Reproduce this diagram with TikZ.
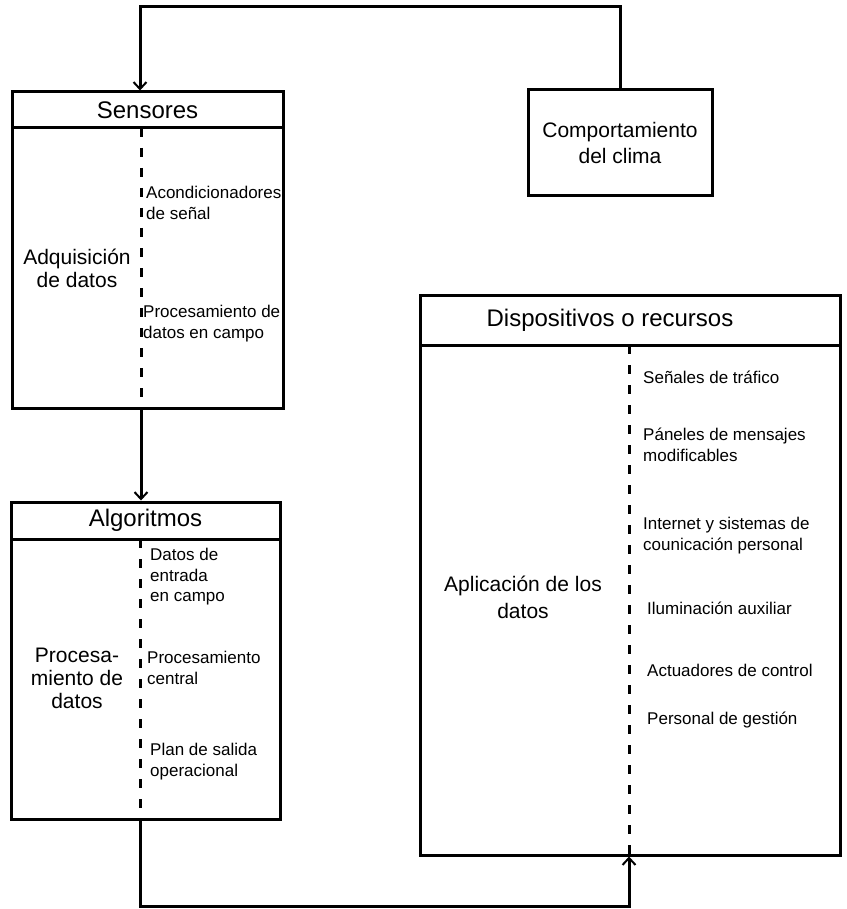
\documentclass[tikz,border=0pt]{standalone}
\usepackage{fontspec}
\setmainfont{Liberation Sans}
\usetikzlibrary{arrows.meta}
\begin{document}
\begin{tikzpicture}[x=1pt,y=-1pt,
  frame/.style={draw=black, line width=3pt, inner sep=0pt},
  divider/.style={line width=3pt, dash pattern=on 9pt off 11pt},
  link/.style={line width=3pt, -{Straight Barb[length=7pt,width=13pt,line width=2pt]}},
  headtxt/.style={font=\fontsize{24}{28}\selectfont},
  midtxt/.style={font=\fontsize{21}{23}\selectfont, align=center, inner sep=0pt},
  itemtxt/.style={font=\fontsize{17}{21}\selectfont, align=left, inner sep=0pt, anchor=west},
]
\useasboundingbox (0,0) rectangle (846,909);

% --- Sensores ---
\node[frame, minimum width=271pt, minimum height=36pt, headtxt] (senshead) at (147.5,110) {Sensores};
\node[frame, minimum width=271pt, minimum height=280pt] (sensbody) at (147.5,268) {};
\draw[divider] (141,128) -- (141,408);
\node[midtxt] (adq) at (77,268.5) {Adquisición\\de datos};
\node[itemtxt] (acond) at (146,202.5) {Acondicionadores\\de señal};
\node[itemtxt] (proccampo) at (143,323.5) {Procesamiento de\\datos en campo};

% --- Algoritmos ---
\node[frame, minimum width=269pt, minimum height=37pt, headtxt] (alghead) at (145.5,520.5) {Algoritmos};
\node[frame, minimum width=269pt, minimum height=280pt] (algbody) at (145.5,679) {};
\draw[divider] (140,539) -- (140,819);
\node[midtxt] (procdat) at (77,678) {Procesa-\\miento de\\datos};
\node[itemtxt, font=\fontsize{17}{20.5}\selectfont] (dentrada) at (150,577) {Datos de\\entrada\\en campo};
\node[itemtxt] (pcentral) at (147,667.5) {Procesamiento\\central};
\node[itemtxt] (plan) at (150,761.5) {Plan de salida\\operacional};

% --- Comportamiento del clima ---
\node[frame, minimum width=184pt, minimum height=106pt, midtxt, font=\fontsize{21}{26}\selectfont] (clima) at (620,143) {Comportamiento\\del clima};

% --- Dispositivos o recursos ---
\node[frame, minimum width=420pt, minimum height=50pt] (disphead) at (630,320) {};
\node[headtxt] (disptitle) at (610,320) {Dispositivos o recursos};
\node[frame, minimum width=420pt, minimum height=510pt] (dispbody) at (630,600) {};
\draw[divider] (629,345) -- (629,855);
\node[midtxt, font=\fontsize{21}{27}\selectfont] (aplic) at (523,597) {Aplicación de los\\datos};
\node[itemtxt] (senales) at (643,377) {Señales de tráfico};
\node[itemtxt] (paneles) at (643,445) {Páneles de mensajes\\modificables};
\node[itemtxt] (internet) at (643,535.5) {Internet y sistemas de\\counicación personal};
\node[itemtxt] (ilum) at (647,608) {Iluminación auxiliar};
\node[itemtxt] (actu) at (647,670) {Actuadores de control};
\node[itemtxt] (pers) at (647,720) {Personal de gestión};

% --- Connectors ---
\coordinate (topbend) at (140,7);
\draw[link] (clima.north) |- (topbend) -- (topbend |- senshead.north);

\coordinate (sdown) at (141,0);
\draw[link] (sdown |- sensbody.south) -- (sdown |- alghead.north);

\coordinate (botleft) at (140,906.5);
\coordinate (botright) at (629,906.5);
\draw[link] (botleft |- algbody.south) -- (botleft) -- (botright) -- (botright |- dispbody.south);
\end{tikzpicture}
\end{document}
